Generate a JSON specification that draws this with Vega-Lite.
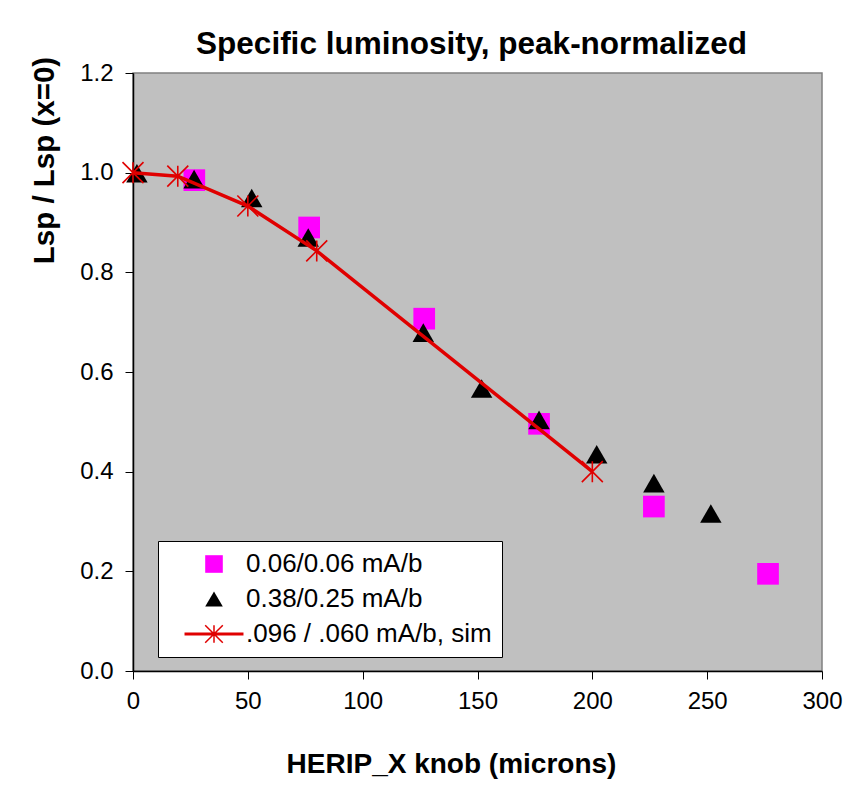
{
  "$schema": "https://vega.github.io/schema/vega-lite/v6.json",
  "width": 689,
  "height": 598,
  "autosize": {"type": "none"},
  "padding": {"left": 133, "top": 73, "right": 30, "bottom": 127},
  "background": "#FFFFFF",
  "title": {
    "text": "Specific luminosity, peak-normalized",
    "fontSize": 31.5,
    "fontWeight": "bold",
    "color": "black",
    "baseline": "alphabetic",
    "offset": 17,
    "dx": -6,
    "dy": 46,
    "anchor": "middle"
  },
  "data": {
    "values": [
      {"series": "0.06/0.06 mA/b", "x": 26.7, "y": 0.985},
      {"series": "0.06/0.06 mA/b", "x": 76.7, "y": 0.89},
      {"series": "0.06/0.06 mA/b", "x": 126.8, "y": 0.707},
      {"series": "0.06/0.06 mA/b", "x": 176.8, "y": 0.496},
      {"series": "0.06/0.06 mA/b", "x": 226.8, "y": 0.33},
      {"series": "0.06/0.06 mA/b", "x": 276.5, "y": 0.195},
      {"series": "0.38/0.25 mA/b", "x": 1.7, "y": 0.999},
      {"series": "0.38/0.25 mA/b", "x": 26.6, "y": 0.987},
      {"series": "0.38/0.25 mA/b", "x": 51.7, "y": 0.949},
      {"series": "0.38/0.25 mA/b", "x": 76.3, "y": 0.87},
      {"series": "0.38/0.25 mA/b", "x": 126.4, "y": 0.679},
      {"series": "0.38/0.25 mA/b", "x": 151.8, "y": 0.567},
      {"series": "0.38/0.25 mA/b", "x": 176.8, "y": 0.504},
      {"series": "0.38/0.25 mA/b", "x": 201.9, "y": 0.435},
      {"series": "0.38/0.25 mA/b", "x": 226.8, "y": 0.377},
      {"series": "0.38/0.25 mA/b", "x": 251.6, "y": 0.316},
      {"series": ".096 / .060 mA/b, sim", "x": 0, "y": 1.0},
      {"series": ".096 / .060 mA/b, sim", "x": 19.5, "y": 0.993},
      {"series": ".096 / .060 mA/b, sim", "x": 50, "y": 0.933},
      {"series": ".096 / .060 mA/b, sim", "x": 80, "y": 0.843},
      {"series": ".096 / .060 mA/b, sim", "x": 200, "y": 0.4}
    ]
  },
  "encoding": {
    "x": {
      "field": "x",
      "type": "quantitative",
      "scale": {"domain": [0, 300], "nice": false, "zero": false},
      "axis": {
        "title": "HERIP_X knob (microns)",
        "values": [0, 50, 100, 150, 200, 250, 300],
        "grid": false,
        "tickSize": 8,
        "tickColor": "black",
        "domainColor": "black",
        "domainWidth": 1.5,
        "labelFontSize": 24,
        "labelColor": "black",
        "labelPadding": 10,
        "labelFlush": false,
        "labelOverlap": false,
        "titleFontSize": 28,
        "titleFontWeight": "bold",
        "titleColor": "black",
        "titleX": 318,
        "titleY": 101,
        "titleAlign": "center",
        "titleBaseline": "alphabetic"
      }
    },
    "y": {
      "field": "y",
      "type": "quantitative",
      "scale": {"domain": [0, 1.2], "nice": false, "zero": false},
      "axis": {
        "title": "Lsp / Lsp (x=0)",
        "values": [0, 0.2, 0.4, 0.6, 0.8, 1.0, 1.2],
        "format": ".1f",
        "grid": false,
        "tickSize": 8,
        "tickColor": "black",
        "domainColor": "black",
        "domainWidth": 1.5,
        "labelFontSize": 24,
        "labelColor": "black",
        "labelPadding": 12,
        "labelFlush": false,
        "labelOverlap": false,
        "titleFontSize": 29.5,
        "titleFontWeight": "bold",
        "titleColor": "black",
        "titleAngle": 270,
        "titleX": -80,
        "titleY": 87,
        "titleAlign": "center",
        "titleBaseline": "alphabetic"
      }
    }
  },
  "layer": [
    {
      "transform": [{"filter": "datum.series !== '.096 / .060 mA/b, sim'"}],
      "mark": {"type": "point", "filled": true, "opacity": 1},
      "encoding": {
        "color": {
          "field": "series",
          "type": "nominal",
          "scale": {
            "domain": ["0.06/0.06 mA/b", "0.38/0.25 mA/b", ".096 / .060 mA/b, sim"],
            "range": ["#FF00FF", "#000000", "#E00000"]
          },
          "legend": {
            "title": null,
            "orient": "none",
            "legendX": 25,
            "legendY": 468,
            "fillColor": "#FFFFFF",
            "strokeColor": "#000000",
            "padding": 10,
            "symbolSize": 310,
            "symbolOffset": 33,
            "symbolOpacity": 1,
            "labelOffset": 19,
            "labelFontSize": 26,
            "labelColor": "black",
            "labelLimit": 400,
            "rowPadding": 9
          }
        },
        "shape": {
          "field": "series",
          "type": "nominal",
          "scale": {
            "domain": ["0.06/0.06 mA/b", "0.38/0.25 mA/b", ".096 / .060 mA/b, sim"],
            "range": [
              "square",
              "triangle-up",
              "M-3.35,-0.17L3.35,-0.17L3.35,0.17L-3.35,0.17Z M-0.94,-1.06L1.06,0.94L0.94,1.06L-1.06,-0.94Z M-1.06,0.94L0.94,-1.06L1.06,-0.94L-0.94,1.06Z M-0.085,-1L0.085,-1L0.085,1L-0.085,1Z"
            ]
          }
        },
        "size": {
          "condition": {"test": "datum.series === '0.06/0.06 mA/b'", "value": 470},
          "value": 460
        }
      }
    },
    {
      "transform": [{"filter": "datum.series === '.096 / .060 mA/b, sim'"}],
      "mark": {"type": "line", "color": "#E00000", "strokeWidth": 3.5},
      "encoding": {}
    },
    {
      "transform": [{"filter": "datum.series === '.096 / .060 mA/b, sim'"}],
      "mark": {
        "type": "point",
        "filled": false,
        "color": "#E00000",
        "strokeWidth": 1.6,
        "opacity": 1,
        "size": 441,
        "shape": "M-1,-1L1,1M-1,1L1,-1M0,-1V1"
      },
      "encoding": {}
    }
  ],
  "config": {
    "font": "Liberation Sans",
    "view": {"fill": "#C0C0C0", "stroke": "#808080", "strokeWidth": 1.5}
  }
}
